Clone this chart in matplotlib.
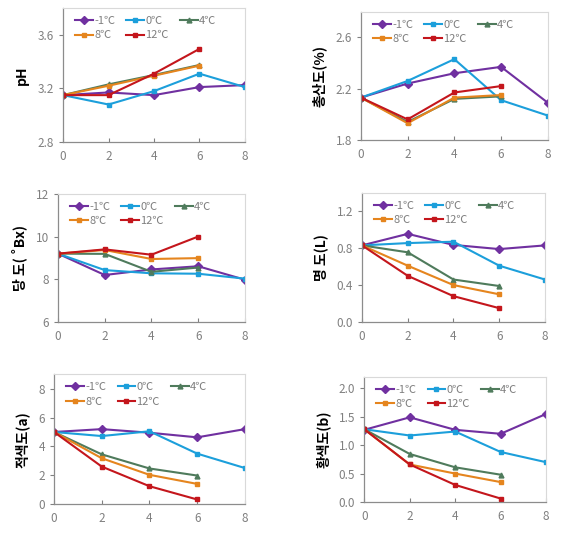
import matplotlib.pyplot as plt

plt.rcParams['font.family'] = ['Noto Sans CJK KR', 'DejaVu Sans']

days = [0, 2, 4, 6, 8]
temps = ['-1℃', '0℃', '4℃', '8℃', '12℃']
colors = ['#7030A0', '#1C9FDB', '#4F7B5C', '#E5851E', '#C4161C']
markers = ['D', 's', '^', 's', 's']
msizes = [4.5, 3.5, 3.5, 2.5, 2.5]

# values per temperature (-1, 0, 4, 8, 12 ℃); 4/8/12 ℃ stop at day 6
ph = [[3.15, 3.17, 3.15, 3.21, 3.225],
      [3.15, 3.08, 3.18, 3.31, 3.21],
      [3.15, 3.23, 3.30, 3.375],
      [3.15, 3.22, 3.295, 3.37],
      [3.15, 3.15, 3.31, 3.495]]
acid = [[2.13, 2.24, 2.32, 2.37, 2.09],
        [2.13, 2.26, 2.43, 2.11, 1.99],
        [2.13, 1.94, 2.12, 2.14],
        [2.13, 1.93, 2.13, 2.15],
        [2.13, 1.96, 2.17, 2.22]]
brix = [[9.2, 8.2, 8.46, 8.61, 7.98],
        [9.2, 8.43, 8.28, 8.26, 8.03],
        [9.2, 9.19, 8.35, 8.55],
        [9.2, 9.37, 8.95, 8.99],
        [9.2, 9.4, 9.15, 10.0]]
light = [[0.83, 0.955, 0.835, 0.79, 0.83],
         [0.83, 0.855, 0.87, 0.61, 0.46],
         [0.83, 0.755, 0.46, 0.39],
         [0.83, 0.61, 0.40, 0.30],
         [0.83, 0.50, 0.28, 0.15]]
red = [[5.0, 5.2, 4.95, 4.63, 5.2],
       [5.0, 4.72, 5.05, 3.5, 2.5],
       [5.0, 3.45, 2.47, 1.98],
       [5.0, 3.18, 2.03, 1.4],
       [5.0, 2.6, 1.24, 0.32]]
yellow = [[1.27, 1.49, 1.27, 1.2, 1.55],
          [1.28, 1.17, 1.24, 0.88, 0.70],
          [1.28, 0.845, 0.61, 0.48],
          [1.28, 0.66, 0.50, 0.35],
          [1.28, 0.66, 0.30, 0.06]]

panels = [
    (ph, 'pH', (2.8, 3.8), [2.8, 3.2, 3.6], '{:.1f}', [0.112, 0.734, 0.323, 0.251]),
    (acid, '총산도(%)', (1.8, 2.8), [1.8, 2.2, 2.6], '{:.1f}', [0.641, 0.738, 0.332, 0.240]),
    (brix, '당 도( ˚Bx)', (6, 12), [6, 8, 10, 12], '{:.0f}', [0.103, 0.397, 0.332, 0.240]),
    (light, '명 도(L)', (0, 1.4), [0.0, 0.4, 0.8, 1.2], '{:.1f}', [0.643, 0.397, 0.325, 0.242]),
    (red, '적색도(a)', (0, 9), [0, 2, 4, 6, 8], '{:.0f}', [0.096, 0.056, 0.339, 0.243]),
    (yellow, '황색도(b)', (0, 2.2), [0.0, 0.5, 1.0, 1.5, 2.0], '{:.1f}', [0.647, 0.060, 0.323, 0.234]),
]

fig = plt.figure(figsize=(5.63, 5.34), dpi=100)

for data, ylabel, ylim, yticks, fmt, pos in panels:
    ax = fig.add_axes(pos)
    lines = []
    for vals, lab, c, m, ms in zip(data, temps, colors, markers, msizes):
        ln, = ax.plot(days[:len(vals)], vals, color=c, marker=m, markersize=ms,
                      linewidth=1.5, label=lab)
        lines.append(ln)
    ax.set_xlim(0, 8)
    ax.set_ylim(*ylim)
    ax.set_xticks(days)
    ax.set_yticks(yticks)
    ax.set_yticklabels([fmt.format(t) for t in yticks])
    ax.tick_params(colors='#808080', labelsize=8.5, length=3, width=0.8)
    ax.tick_params(axis='x', direction='in', pad=6)
    for side in ['top', 'right']:
        ax.spines[side].set_color('#d9d9d9')
        ax.spines[side].set_linewidth(0.8)
    for side in ['left', 'bottom']:
        ax.spines[side].set_color('#8c8c8c')
        ax.spines[side].set_linewidth(0.9)
    ax.set_ylabel(ylabel, fontsize=10, fontweight='bold', labelpad=6)
    # reorder so rows read -1, 0, 4 / 8, 12
    order = [0, 3, 1, 4, 2]
    leg = ax.legend([lines[i] for i in order], [temps[i] for i in order],
                    ncol=3, loc='upper left', bbox_to_anchor=(0.03, 0.99),
                    frameon=False, fontsize=8, handlelength=1.6,
                    handletextpad=0.1, columnspacing=1.0, labelspacing=0.4,
                    borderaxespad=0.2)
    for t in leg.get_texts():
        t.set_color('#7f7f7f')

fig.savefig('out.png', dpi=100)
